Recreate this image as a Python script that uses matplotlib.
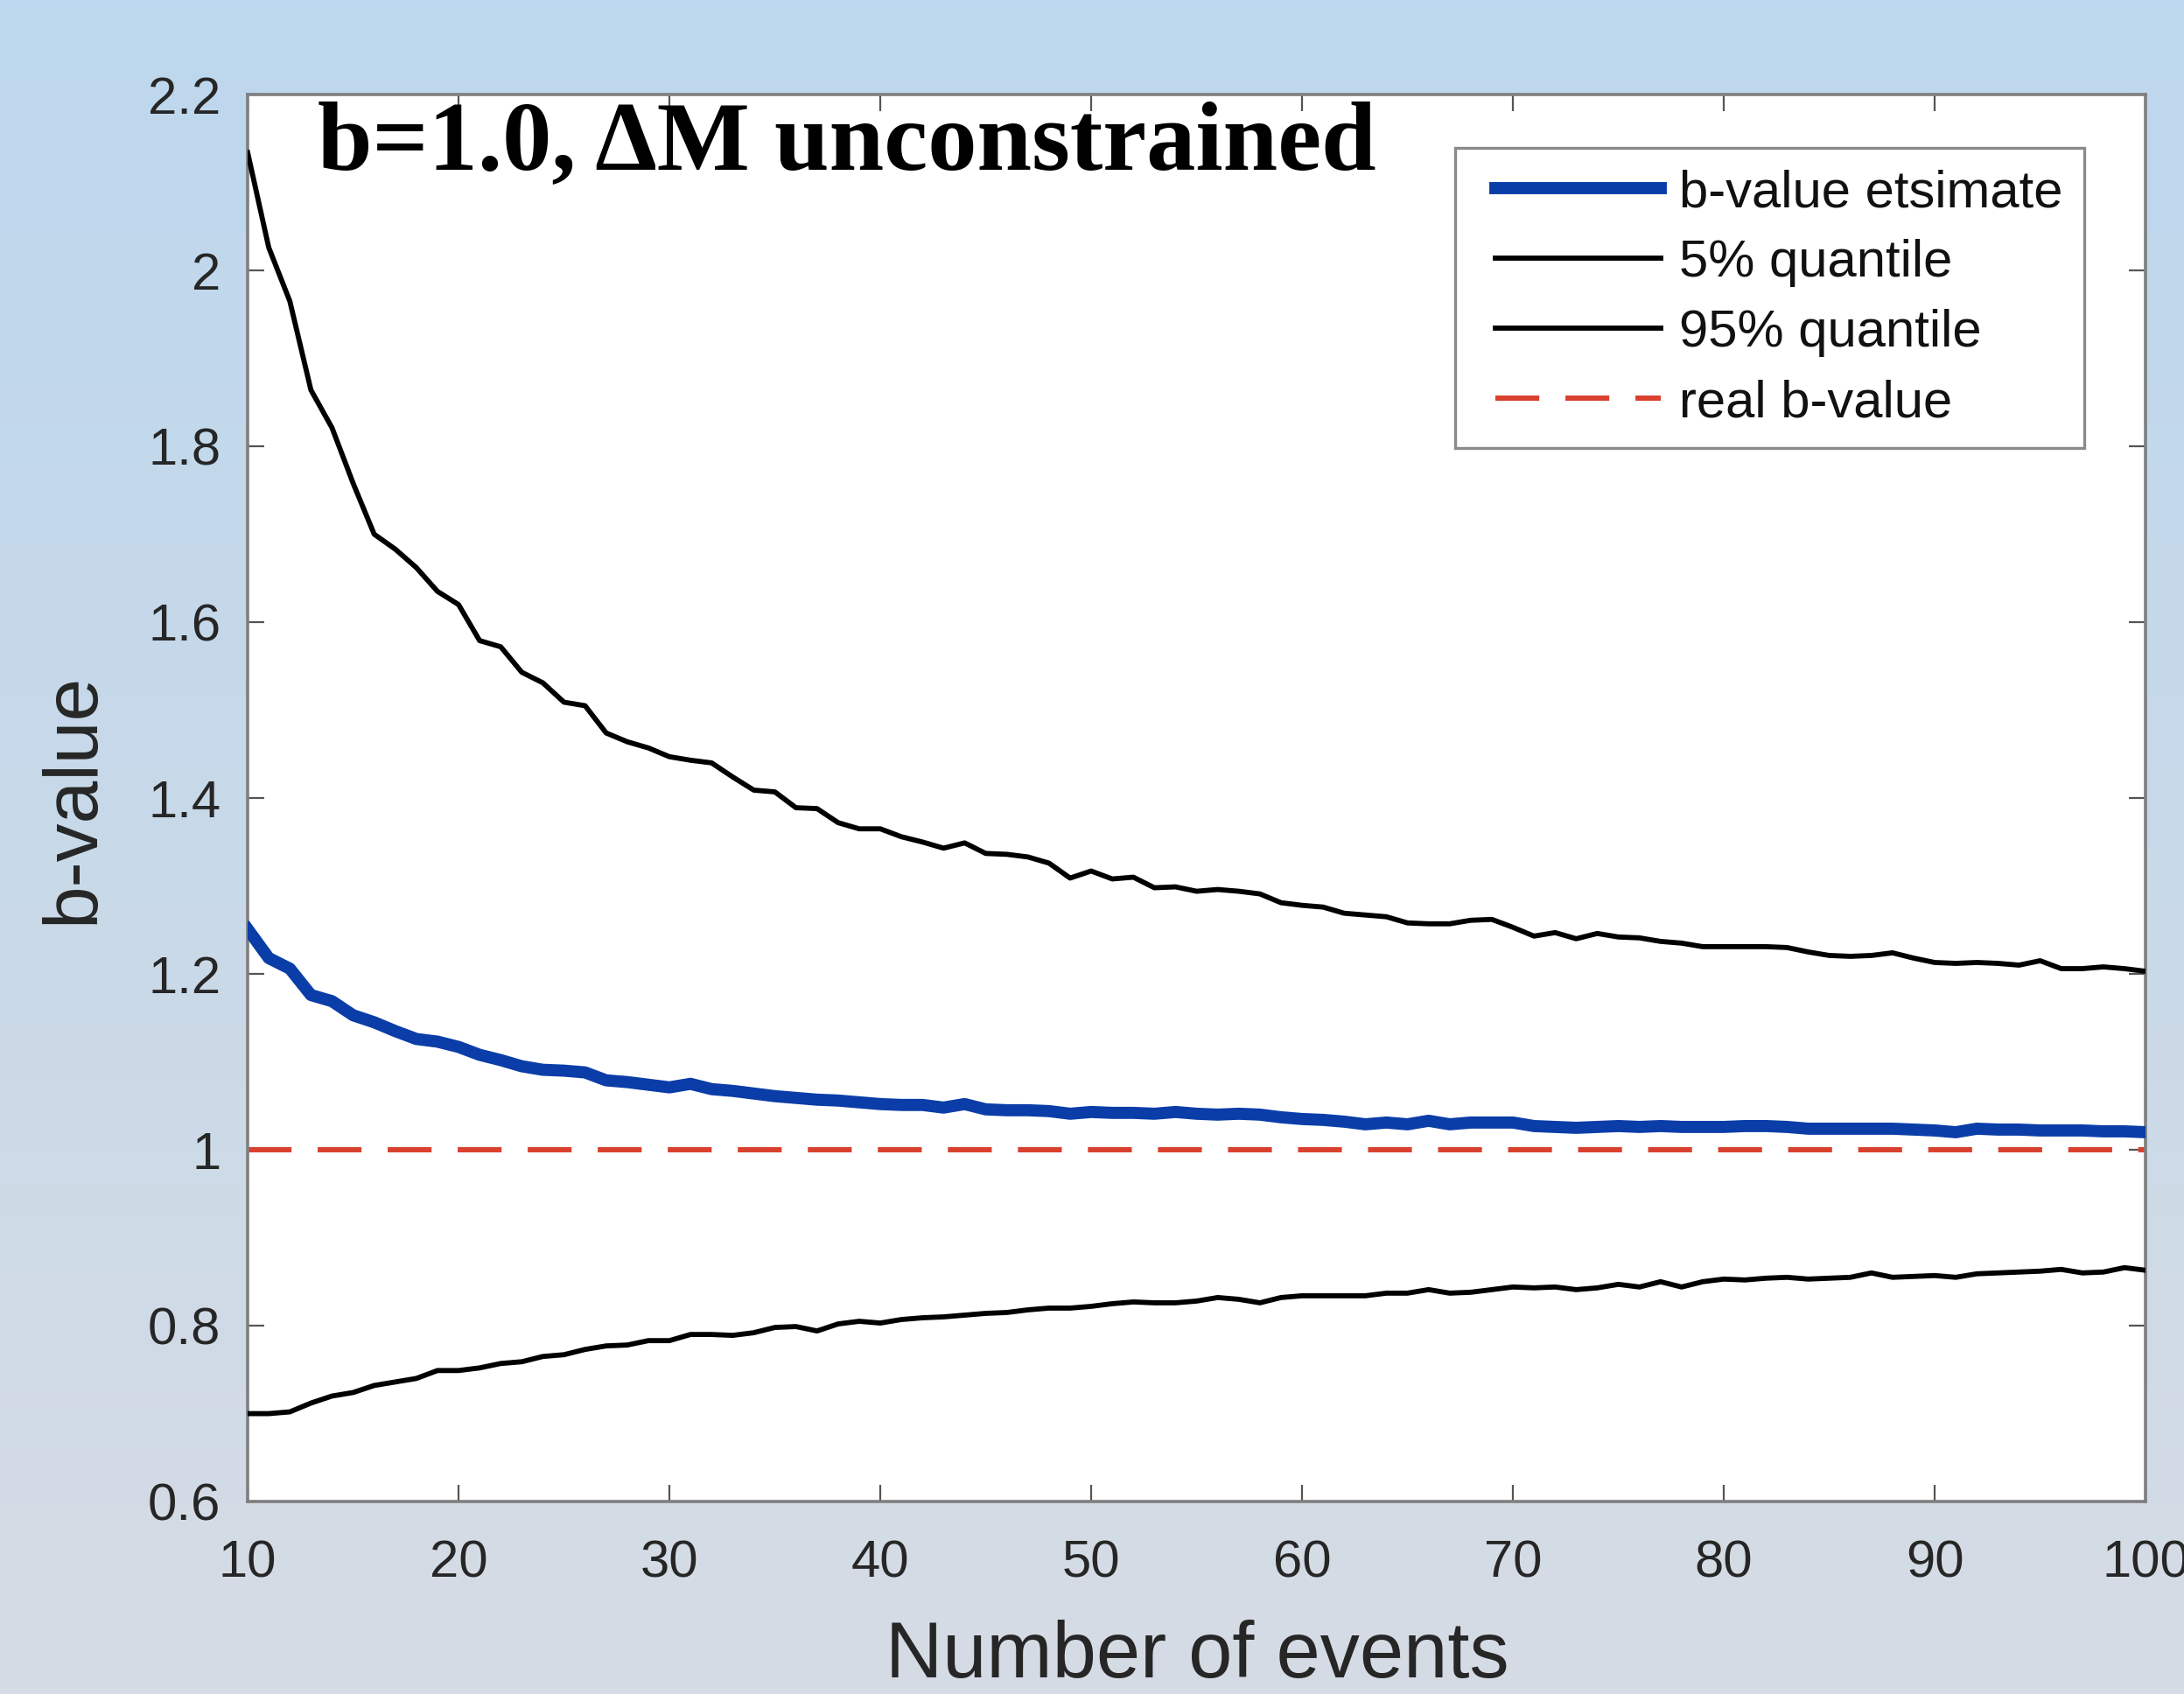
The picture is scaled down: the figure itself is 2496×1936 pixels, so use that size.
import numpy as np
import matplotlib
matplotlib.use("Agg")
import matplotlib.pyplot as plt
from matplotlib.colors import LinearSegmentedColormap
from matplotlib.legend_handler import HandlerLine2D

# number of events (x axis)
n_events = list(range(10, 101))

# mean b-value estimate
b_est = [1.251, 1.218, 1.206, 1.176, 1.169, 1.153, 1.145, 1.135, 1.126, 1.123,
         1.117, 1.108, 1.102, 1.095, 1.091, 1.090, 1.088, 1.079, 1.077, 1.074,
         1.071, 1.075, 1.069, 1.067, 1.064, 1.061, 1.059, 1.057, 1.056, 1.054,
         1.052, 1.051, 1.051, 1.048, 1.052, 1.046, 1.045, 1.045, 1.044, 1.041,
         1.043, 1.042, 1.042, 1.041, 1.043, 1.041, 1.040, 1.041, 1.040, 1.037,
         1.035, 1.034, 1.032, 1.029, 1.031, 1.029, 1.033, 1.029, 1.031, 1.031,
         1.031, 1.027, 1.026, 1.025, 1.026, 1.027, 1.026, 1.027, 1.026, 1.026,
         1.026, 1.027, 1.027, 1.026, 1.024, 1.024, 1.024, 1.024, 1.024, 1.023,
         1.022, 1.020, 1.024, 1.023, 1.023, 1.022, 1.022, 1.022, 1.021, 1.021,
         1.020]

# 5% quantile
q05 = [0.700, 0.700, 0.702, 0.712, 0.720, 0.724, 0.732, 0.736, 0.740, 0.749,
       0.749, 0.752, 0.757, 0.759, 0.765, 0.767, 0.773, 0.777, 0.778, 0.783,
       0.783, 0.790, 0.790, 0.789, 0.792, 0.798, 0.799, 0.794, 0.802, 0.805,
       0.803, 0.807, 0.809, 0.810, 0.812, 0.814, 0.815, 0.818, 0.820, 0.820,
       0.822, 0.825, 0.827, 0.826, 0.826, 0.828, 0.832, 0.830, 0.826, 0.832,
       0.834, 0.834, 0.834, 0.834, 0.837, 0.837, 0.841, 0.837, 0.838, 0.841,
       0.844, 0.843, 0.844, 0.841, 0.843, 0.847, 0.844, 0.850, 0.844, 0.850,
       0.853, 0.852, 0.854, 0.855, 0.853, 0.854, 0.855, 0.860, 0.855, 0.856,
       0.857, 0.855, 0.859, 0.860, 0.861, 0.862, 0.864, 0.860, 0.861, 0.866,
       0.863]

# 95% quantile
q95 = [2.134, 2.026, 1.965, 1.864, 1.821, 1.758, 1.700, 1.683, 1.662, 1.635,
       1.620, 1.579, 1.572, 1.543, 1.531, 1.509, 1.505, 1.474, 1.464, 1.457,
       1.447, 1.443, 1.440, 1.424, 1.409, 1.407, 1.389, 1.388, 1.372, 1.365,
       1.365, 1.356, 1.350, 1.343, 1.349, 1.337, 1.336, 1.333, 1.326, 1.309,
       1.317, 1.308, 1.310, 1.298, 1.299, 1.294, 1.296, 1.294, 1.291, 1.281,
       1.278, 1.276, 1.269, 1.267, 1.265, 1.258, 1.257, 1.257, 1.261, 1.262,
       1.253, 1.243, 1.247, 1.240, 1.246, 1.242, 1.241, 1.237, 1.235, 1.231,
       1.231, 1.231, 1.231, 1.230, 1.225, 1.221, 1.220, 1.221, 1.224, 1.218,
       1.213, 1.212, 1.213, 1.212, 1.210, 1.215, 1.206, 1.206, 1.208, 1.206,
       1.203]

real_b = 1.0

x_ticks = [10, 20, 30, 40, 50, 60, 70, 80, 90, 100]
y_ticks = [0.6, 0.8, 1.0, 1.2, 1.4, 1.6, 1.8, 2.0, 2.2]
y_tick_labels = ['0.6', '0.8', '1', '1.2', '1.4', '1.6', '1.8', '2', '2.2']


class PaddedLine(HandlerLine2D):
    # leaves some empty room left of the legend line, like MATLAB does
    def get_xdata(self, legend, xdescent, ydescent, width, height, fontsize):
        pad = 0.37 * fontsize
        xd = np.array([-xdescent + pad, -xdescent + width])
        return xd, np.array([(xd[0] + xd[1]) / 2])


plt.rcParams['font.family'] = ['Liberation Sans', 'DejaVu Sans']

fig = plt.figure(figsize=(24.96, 19.36), dpi=100)

# slide-like background gradient
bg = fig.add_axes([0, 0, 1, 1], zorder=-10)
cmap = LinearSegmentedColormap.from_list('bg', ['#bdd7ee', '#c8d9e9', '#d6dce4'])
bg.imshow(np.linspace(0, 1, 256).reshape(-1, 1), cmap=cmap, aspect='auto',
          extent=[0, 1, 0, 1])
bg.axis('off')

ax = fig.add_axes([0.1134, 0.1136, 0.869, 0.8306])
ax.set_facecolor('white')

ax.plot(n_events, b_est, color='#0b3da8', lw=10.0, label='b-value etsimate',
        solid_joinstyle='round', zorder=4)
ax.plot(n_events, q05, color='black', lw=4.2, label='5% quantile', zorder=3)
ax.plot(n_events, q95, color='black', lw=4.2, label='95% quantile', zorder=3)
ax.plot([n_events[0], n_events[-1]], [real_b, real_b], color='#d9412e', lw=4.3,
        dashes=(8.4, 5.0), label='real b-value', zorder=2)

ax.set_xlim(10, 100)
ax.set_ylim(0.6, 2.2)
ax.set_xticks(x_ticks)
ax.set_yticks(y_ticks)
ax.set_yticklabels(y_tick_labels)
ax.tick_params(direction='in', length=14, width=1.6, color='#555555',
               top=True, right=True, labelsize=43, labelcolor='#262626')
ax.tick_params(axis='x', pad=31)
ax.tick_params(axis='y', pad=22)
for sp in ax.spines.values():
    sp.set_color('#7f7f7f')
    sp.set_linewidth(2.6)

leg = ax.legend(loc='upper left', bbox_to_anchor=(0.636, 0.962), borderaxespad=0,
                fontsize=43, handlelength=3.55, handletextpad=0.35,
                labelspacing=0.42, borderpad=0.4, fancybox=False,
                framealpha=1, edgecolor='#8a8a8a',
                handler_map={matplotlib.lines.Line2D: PaddedLine()})
leg.get_frame().set_linewidth(2.4)
for t in leg.get_texts():
    t.set_color('#111111')

fig.text(363 / 2496, 1 - 193 / 1936, 'b=1.0, \u0394M unconstrained',
         family=['Liberation Serif', 'DejaVu Serif'], fontweight='bold',
         fontsize=81, color='black', va='baseline', ha='left')

fig.text(84 / 2496, 1 - 912 / 1936, 'b-value', rotation=90, fontsize=63,
         ha='center', va='center', color='#262626')
fig.text(1368 / 2496, 1 - 1917 / 1936, 'Number of events', fontsize=65,
         ha='center', va='baseline', color='#262626')

fig.savefig('out.png', dpi=100)
